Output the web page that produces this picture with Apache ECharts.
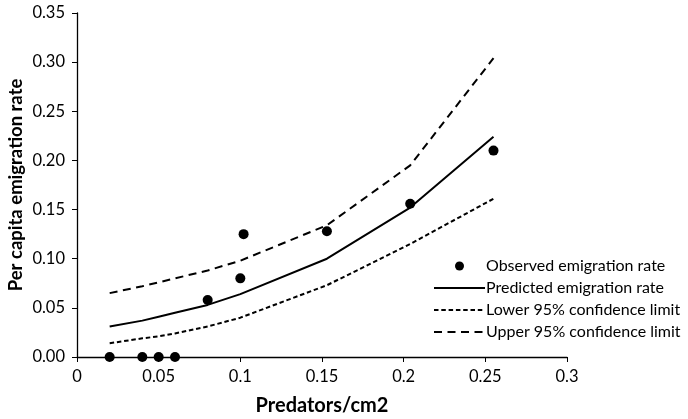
<!DOCTYPE html>
<html><head><meta charset="utf-8">
<script src="https://cdn.jsdelivr.net/npm/echarts@6/dist/echarts.min.js"></script>
<style>html,body{margin:0;padding:0;background:#fff}#c{width:688px;height:419px}</style>
</head><body><div id="c"></div>
<script>
var obsX = [0.02, 0.04, 0.05, 0.06, 0.08, 0.1, 0.102, 0.153, 0.204, 0.255];
var obsY = [0, 0, 0, 0, 0.058, 0.080, 0.125, 0.128, 0.156, 0.210];
var fitX = [0.02, 0.04, 0.05, 0.06, 0.08, 0.1, 0.153, 0.204, 0.255];
var predY = [0.031, 0.037, 0.041, 0.045, 0.053, 0.064, 0.100, 0.152, 0.224];
var lowerY = [0.014, 0.019, 0.021, 0.024, 0.031, 0.040, 0.073, 0.115, 0.161];
var upperY = [0.065, 0.072, 0.076, 0.080, 0.088, 0.098, 0.134, 0.195, 0.304];
var names = ['Observed emigration rate', 'Predicted emigration rate', 'Lower 95% confidence limit', 'Upper 95% confidence limit'];

function pairs(xs, ys){ return xs.map(function(x,i){ return [x, ys[i]]; }); }
var font = 'Lato';
var chart = echarts.init(document.getElementById('c'));
chart.setOption({
  animation: false,
  grid: {left: 77, right: 121, top: 13, bottom: 62, containLabel: false, outerBoundsMode: 'none'},
  xAxis: {
    type: 'value', min: 0, max: 0.3, interval: 0.05,
    name: 'Predators/cm2', nameLocation: 'middle', nameGap: 39, nameMoveOverlap: false,
    nameTextStyle: {fontFamily: font, fontWeight: 'bold', fontSize: 20, color: '#000'},
    axisLine: {show: true, lineStyle: {color: '#000', width: 1.3}},
    axisTick: {show: true, inside: false, length: 5, lineStyle: {color: '#000'}},
    axisLabel: {fontFamily: font, fontSize: 16.5, color: '#000', margin: 11,
      formatter: function(v){ return String(+v.toFixed(2)); }},
    splitLine: {show: false}
  },
  yAxis: {
    type: 'value', min: 0, max: 0.35, interval: 0.05,
    name: 'Per capita emigration rate', nameLocation: 'middle', nameGap: 51, nameRotate: 90, nameMoveOverlap: false,
    nameTextStyle: {fontFamily: font, fontWeight: 'bold', fontSize: 18.5, color: '#000'},
    axisLine: {show: true, lineStyle: {color: '#000', width: 1.3}},
    axisTick: {show: true, inside: false, length: 5, lineStyle: {color: '#000'}},
    axisLabel: {fontFamily: font, fontSize: 16.5, color: '#000', margin: 12,
      formatter: function(v){ return v.toFixed(2); }},
    splitLine: {show: false}
  },
  legend: {
    orient: 'vertical', left: 428, top: 253, itemGap: 6, itemWidth: 51, itemHeight: 9,
    textStyle: {fontFamily: font, fontSize: 16, color: '#000', padding: [0,0,0,-4]},
    data: [
      {name: names[0], itemStyle: {opacity: 1}},
      {name: names[1], itemStyle: {opacity: 0}},
      {name: names[2], itemStyle: {opacity: 0}},
      {name: names[3], itemStyle: {opacity: 0}}
    ]
  },
  series: [
    {name: names[0], type: 'scatter', data: pairs(obsX, obsY), symbol: 'circle', symbolSize: 10,
     itemStyle: {color: '#000', opacity: 1}, z: 5},
    {name: names[1], type: 'line', data: pairs(fitX, predY), symbol: 'none', showSymbol: false,
     lineStyle: {color: '#000', width: 2, type: 'solid'}, itemStyle: {color: '#000'}},
    {name: names[2], type: 'line', data: pairs(fitX, lowerY), symbol: 'none', showSymbol: false,
     lineStyle: {color: '#000', width: 2, type: [4.5, 2.8]}, itemStyle: {color: '#000'}},
    {name: names[3], type: 'line', data: pairs(fitX, upperY), symbol: 'none', showSymbol: false,
     lineStyle: {color: '#000', width: 2, type: [8, 5.5]}, itemStyle: {color: '#000'}}
  ]
});
</script></body></html>
